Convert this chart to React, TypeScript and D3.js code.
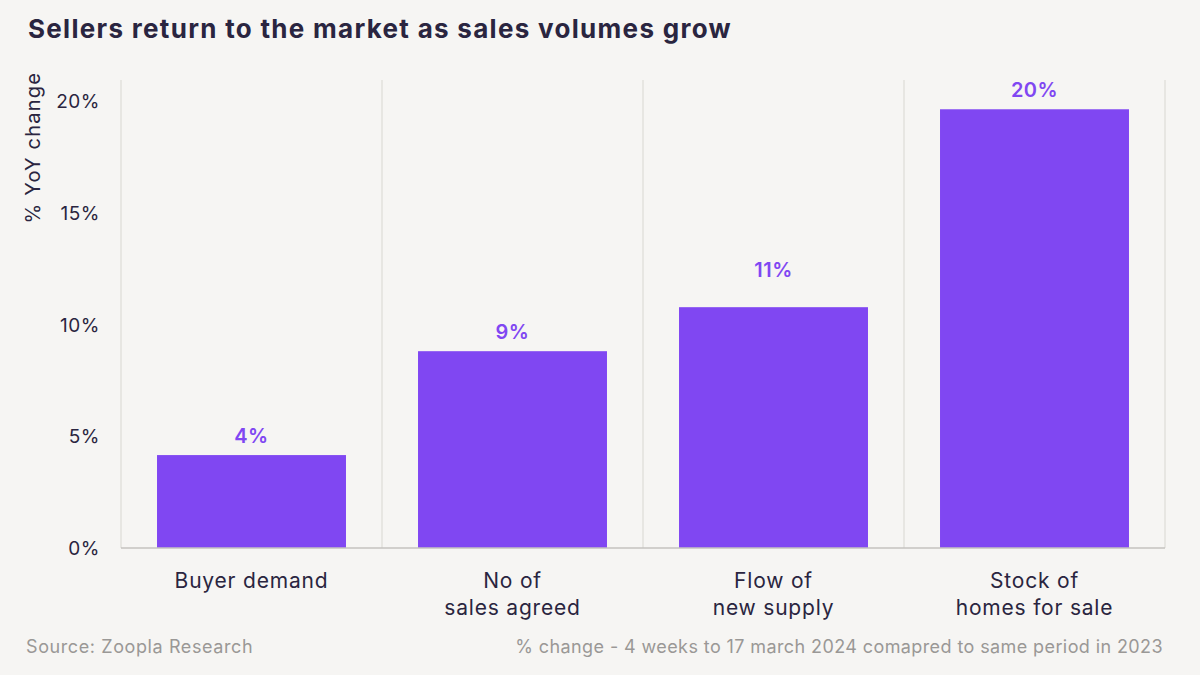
import React from "react";
import * as d3 from "d3";

const categories: string[][] = [["Buyer demand"], ["No of", "sales agreed"], ["Flow of", "new supply"], ["Stock of", "homes for sale"]];
const values: number[] = [4.16, 8.81, 10.78, 19.64];
const valueLabels: string[] = ["4%", "9%", "11%", "20%"];
const yTicks: number[] = [0, 5, 10, 15, 20];

const W = 1200, H = 675;
const FONT = "Inter, 'Open Sans', sans-serif";
// extra lift of the value label (reference places the 3rd label higher)
const labelLift = (i: number) => (i === 2 ? 18 : 0);

export default function App() {
  const left = 121, right = 1165, top = 80, bottom = 548;
  const x = d3.scaleBand<number>().domain(d3.range(values.length)).range([left, right]).paddingInner(0.276).paddingOuter(0.138);
  const y = d3.scaleLinear().domain([0, 20.95]).range([bottom, top]);
  const bandEdges = d3.range(values.length + 1).map((i) => left + (i * (right - left)) / values.length);
  return (
    <div style={{ position: "fixed", left: 0, top: 0, width: W, height: H }}>
      <svg width={W} height={H} style={{ display: "block", fontFamily: FONT }}>
        <rect width={W} height={H} fill="#f6f5f3" />
        <text x={28} y={38} fontSize={26} fontWeight={700} letterSpacing={1.3} fill="#2a2540">Sellers return to the market as sales volumes grow</text>
        {bandEdges.map((bx, i) => (
          <line key={i} x1={bx} x2={bx} y1={top} y2={bottom} stroke="#e2e0dd" strokeWidth={1.5} />
        ))}
        {values.map((v, i) => (
          <g key={i}>
            <rect x={x(i)} y={y(v)} width={x.bandwidth()} height={bottom - y(v)} fill="#8047f2" />
            <text x={(x(i) as number) + x.bandwidth() / 2} y={y(v) - 12 - labelLift(i)} textAnchor="middle" fontSize={20} fontWeight={600} letterSpacing={0.5} fill="#8047f2">{valueLabels[i]}</text>
            {categories[i].map((line, j) => (
              <text key={j} x={(x(i) as number) + x.bandwidth() / 2} y={588 + j * 27} textAnchor="middle" fontSize={21} letterSpacing={0.8} fill="#2a2540">{line}</text>
            ))}
          </g>
        ))}
        <line x1={left} x2={right} y1={bottom} y2={bottom} stroke="#c4c2bf" strokeWidth={1.5} />
        {yTicks.map((t) => (
          <text key={t} x={100} y={y(t) + 7} textAnchor="end" fontSize={19} letterSpacing={0.5} fill="#2a2540">{t}%</text>
        ))}
        <text transform="translate(40,72) rotate(-90)" textAnchor="end" fontSize={20} letterSpacing={1.2} fill="#2a2540">% YoY change</text>
        <text x={26} y={653} fontSize={18} letterSpacing={0.6} fill="#9a9896">Source: Zoopla Research</text>
        <text x={1163} y={653} textAnchor="end" fontSize={18} letterSpacing={0.4} fill="#9a9896">% change - 4 weeks to 17 march 2024 comapred to same period in 2023</text>
      </svg>
    </div>
  );
}
